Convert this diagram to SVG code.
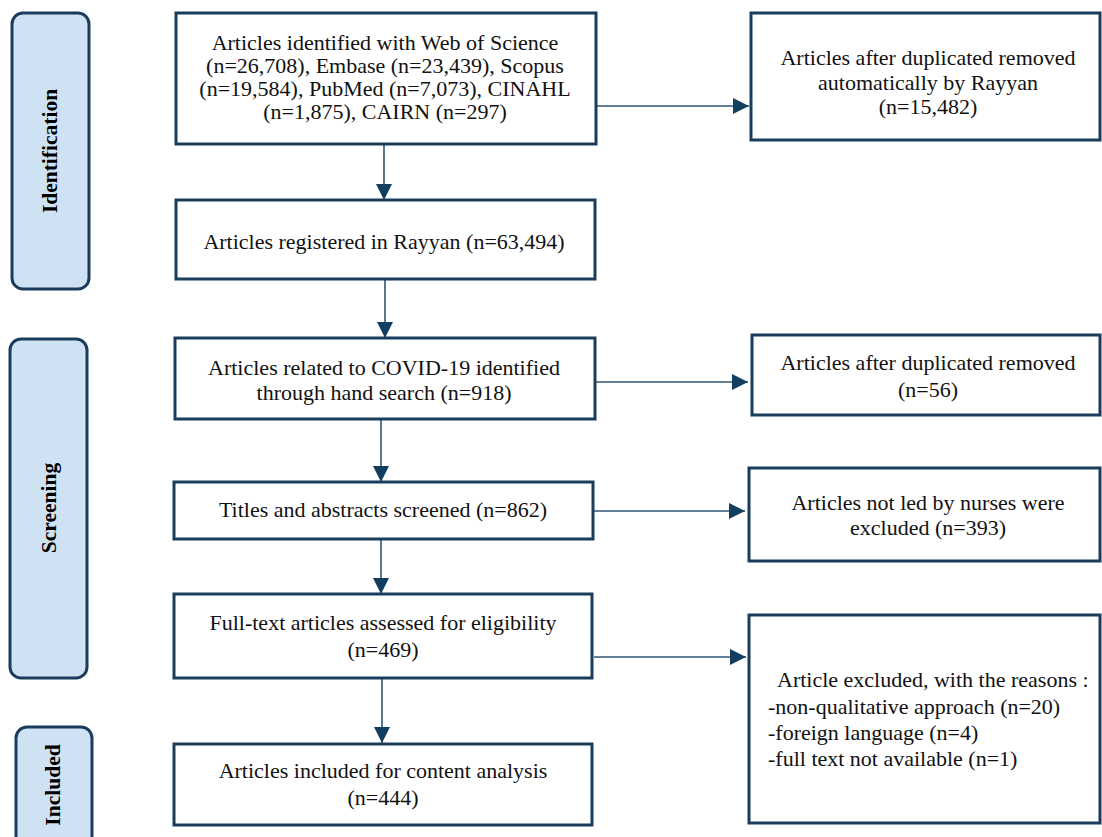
<svg xmlns="http://www.w3.org/2000/svg" width="1102" height="837" viewBox="0 0 1102 837">
<style>
.panel{fill:#cfe2f3;stroke:#1b3c5c;stroke-width:3}
.box{fill:#ffffff;stroke:#1a3d5e;stroke-width:3}
.plabel{font-family:"Liberation Serif",serif;font-size:21.5px;font-weight:bold;fill:#000;text-anchor:middle}
.t{font-family:"Liberation Serif",serif;font-size:22px;fill:#111;text-anchor:middle}
.tl{font-family:"Liberation Serif",serif;font-size:22px;fill:#111}
.con{stroke:#2c5677;stroke-width:1.6;fill:none;marker-end:url(#ah)}
</style>
<defs>
<marker id="ah" markerUnits="userSpaceOnUse" markerWidth="16" markerHeight="16" refX="16" refY="8" orient="auto">
<path d="M0,0 L16,8 L0,16 Z" fill="#123e60"/>
</marker>
</defs>
<rect width="1102" height="837" fill="#ffffff"/>
<g id="phase-identification">
<rect class="panel" x="12" y="13" width="77" height="276" rx="11"/>
<text class="plabel" transform="translate(57,151) rotate(-90)">Identification</text>
</g>
<g id="phase-screening">
<rect class="panel" x="10" y="339" width="77" height="339" rx="11"/>
<text class="plabel" transform="translate(56,508) rotate(-90)">Screening</text>
</g>
<g id="phase-included">
<rect class="panel" x="16" y="727" width="76" height="125" rx="11"/>
<text class="plabel" transform="translate(60,785) rotate(-90)">Included</text>
</g>
<g id="connectors">
<line class="con" x1="384" y1="144" x2="384" y2="200"/>
<line class="con" x1="385" y1="279" x2="385" y2="338"/>
<line class="con" x1="381" y1="419" x2="381" y2="482"/>
<line class="con" x1="381" y1="539" x2="381" y2="594"/>
<line class="con" x1="382" y1="678" x2="382" y2="743"/>
<line class="con" x1="597" y1="106" x2="749" y2="106"/>
<line class="con" x1="596" y1="382" x2="748" y2="382"/>
<line class="con" x1="594" y1="511" x2="745" y2="511"/>
<line class="con" x1="594" y1="657" x2="746" y2="657"/>
</g>
<g id="n-identified">
<rect class="box" x="176" y="13" width="420" height="131"/>
<text class="t" x="385" y="50">Articles identified with Web of Science</text>
<text class="t" x="385" y="73">(n=26,708), Embase (n=23,439), Scopus</text>
<text class="t" x="385" y="96">(n=19,584), PubMed (n=7,073), CINAHL</text>
<text class="t" x="385" y="119">(n=1,875), CAIRN (n=297)</text>
</g>
<g id="n-duplicates-auto">
<rect class="box" x="751" y="13" width="349" height="127"/>
<text class="t" x="928" y="65">Articles after duplicated removed</text>
<text class="t" x="928" y="90">automatically by Rayyan</text>
<text class="t" x="928" y="114">(n=15,482)</text>
</g>
<g id="n-registered">
<rect class="box" x="176" y="200" width="419" height="79"/>
<text class="t" x="384" y="249">Articles registered in Rayyan (n=63,494)</text>
</g>
<g id="n-hand-search">
<rect class="box" x="175" y="338" width="420" height="81"/>
<text class="t" x="384" y="375">Articles related to COVID-19 identified</text>
<text class="t" x="384" y="400">through hand search (n=918)</text>
</g>
<g id="n-duplicates">
<rect class="box" x="752" y="335" width="348" height="80"/>
<text class="t" x="928" y="370">Articles after duplicated removed</text>
<text class="t" x="928" y="397">(n=56)</text>
</g>
<g id="n-screened">
<rect class="box" x="174" y="482" width="419" height="57"/>
<text class="t" x="383" y="517">Titles and abstracts screened (n=862)</text>
</g>
<g id="n-not-nurses">
<rect class="box" x="749" y="468" width="351" height="93"/>
<text class="t" x="928" y="510">Articles not led by nurses were</text>
<text class="t" x="928" y="535">excluded (n=393)</text>
</g>
<g id="n-fulltext">
<rect class="box" x="174" y="594" width="418" height="84"/>
<text class="t" x="383" y="630">Full-text articles assessed for eligibility</text>
<text class="t" x="383" y="657">(n=469)</text>
</g>
<g id="n-excluded-reasons">
<rect class="box" x="749" y="615" width="351" height="208"/>
<text class="tl" x="777" y="687">Article excluded, with the reasons :</text>
<text class="tl" x="768" y="714">-non-qualitative approach (n=20)</text>
<text class="tl" x="768" y="740">-foreign language (n=4)</text>
<text class="tl" x="768" y="766">-full text not available (n=1)</text>
</g>
<g id="n-included">
<rect class="box" x="174" y="744" width="418" height="81"/>
<text class="t" x="383" y="778">Articles included for content analysis</text>
<text class="t" x="383" y="805">(n=444)</text>
</g>
</svg>
